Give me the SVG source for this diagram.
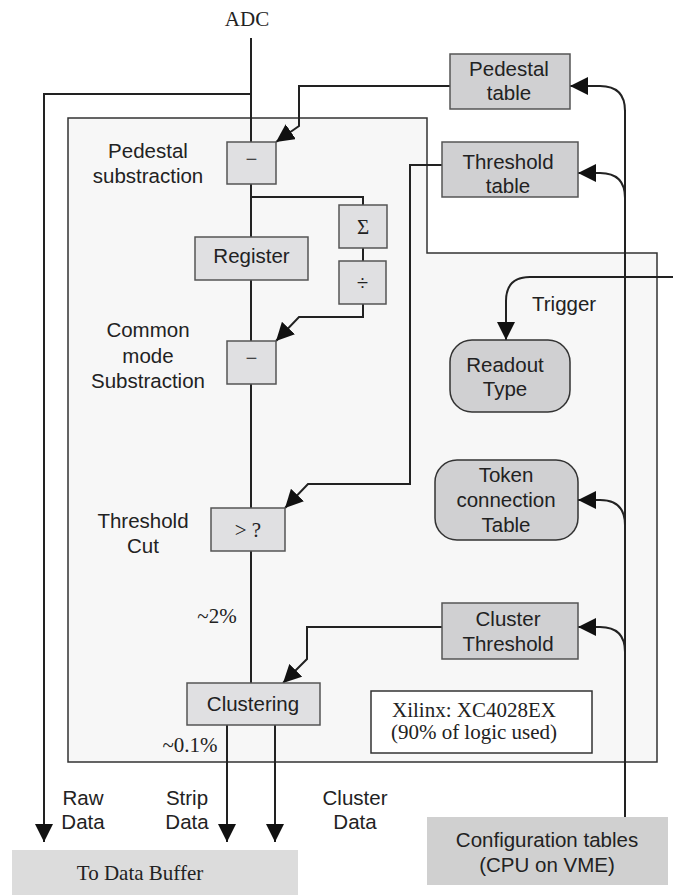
<svg xmlns="http://www.w3.org/2000/svg" width="678" height="895" viewBox="0 0 678 895">
<style>
.sans{font-family:"Liberation Sans",Arial,sans-serif;font-size:20.5px;fill:#222;text-anchor:middle}
.serif{font-family:"Liberation Serif","Times New Roman",serif;font-size:21px;fill:#222;text-anchor:middle}
.op{fill:#e0e0e2;stroke:#555;stroke-width:1.5}
.tbl{fill:#d0d0d2;stroke:#555;stroke-width:1.5}
.rnd{fill:#d0d0d2;stroke:#333;stroke-width:1.5}
.wire{fill:none;stroke:#222;stroke-width:2}
</style>
<defs>
<marker id="ah" markerUnits="userSpaceOnUse" markerWidth="18" markerHeight="18" viewBox="0 0 18 18" refX="18" refY="9" orient="auto">
<path d="M0,0 L18,9 L0,18 z" fill="#111"/>
</marker>
</defs>
<rect width="678" height="895" fill="#fff"/>
<g id="fpga-board">
<path d="M68,118 L427,118 L427,253 L657,253 L657,762 L68,762 Z" fill="#f7f7f7" stroke="#333" stroke-width="1.5"/>
</g>
<g id="connectors">
<path class="wire" d="M251,38 L251,683"/>
<path class="wire" d="M251,94 L44,94 L44,842" marker-end="url(#ah)"/>
<path class="wire" d="M450,86 L299,86 L299,126 L276,142" marker-end="url(#ah)"/>
<path class="wire" d="M251,197 L363,197 L363,205"/>
<path class="wire" d="M363,248 L363,261"/>
<path class="wire" d="M363,304 L363,317 L299,317 L276,341" marker-end="url(#ah)"/>
<path class="wire" d="M442,165 L410,165 L410,484 L308,484 L285,508" marker-end="url(#ah)"/>
<path class="wire" d="M442,627 L307,627 L307,659 L283,683" marker-end="url(#ah)"/>
<path class="wire" d="M227,725 L227,842" marker-end="url(#ah)"/>
<path class="wire" d="M275,725 L275,842" marker-end="url(#ah)"/>
<path class="wire" d="M625,817 L625,110"/>
<path class="wire" d="M625,111 Q625,86 600,86 L570,86" marker-end="url(#ah)"/>
<path class="wire" d="M625,198 Q625,173 600,173 L578,173" marker-end="url(#ah)"/>
<path class="wire" d="M625,525 Q625,500 600,500 L578,500" marker-end="url(#ah)"/>
<path class="wire" d="M625,652 Q625,627 600,627 L578,627" marker-end="url(#ah)"/>
<path class="wire" d="M673,277 L530,277 Q506,277 506,301 L506,340" marker-end="url(#ah)"/>
</g>
<g id="adc"><text class="serif" x="247" y="26">ADC</text></g>
<g id="pedestal-sub">
<rect class="op" x="227" y="142" width="49" height="42"/>
<text class="serif" x="251.5" y="166">−</text>
<text class="sans" x="148" y="158">Pedestal</text>
<text class="sans" x="148" y="183">substraction</text>
</g>
<g id="pedestal-table">
<rect class="tbl" x="450" y="54" width="120" height="55"/>
<text class="sans" x="509" y="76">Pedestal</text>
<text class="sans" x="509" y="100">table</text>
</g>
<g id="threshold-table">
<rect class="tbl" x="442" y="142" width="136" height="55"/>
<text class="sans" x="508" y="169">Threshold</text>
<text class="sans" x="508" y="193">table</text>
</g>
<g id="sum">
<rect class="op" x="339" y="205" width="48" height="43"/>
<text class="serif" x="363" y="234">Σ</text>
</g>
<g id="divide">
<rect class="op" x="339" y="261" width="47" height="43"/>
<text class="serif" x="362.5" y="290">÷</text>
</g>
<g id="register">
<rect class="op" x="195" y="237" width="113" height="43"/>
<text class="sans" x="251.5" y="263">Register</text>
</g>
<g id="common-mode">
<rect class="op" x="227" y="341" width="49" height="43"/>
<text class="serif" x="251.5" y="365">−</text>
<text class="sans" x="148" y="337">Common</text>
<text class="sans" x="148" y="363">mode</text>
<text class="sans" x="148" y="388">Substraction</text>
</g>
<g id="readout-type">
<rect class="rnd" x="450" y="340" width="120" height="72" rx="22"/>
<text class="sans" x="505" y="372">Readout</text>
<text class="sans" x="505" y="396">Type</text>
</g>
<g id="trigger"><text class="sans" x="532" y="311" style="text-anchor:start">Trigger</text></g>
<g id="token-table">
<rect class="rnd" x="435" y="460" width="143" height="80" rx="22"/>
<text class="sans" x="506" y="482">Token</text>
<text class="sans" x="506" y="507">connection</text>
<text class="sans" x="506" y="532">Table</text>
</g>
<g id="threshold-cut">
<rect class="op" x="211" y="508" width="74" height="43"/>
<text class="serif" x="248" y="537">&gt; ?</text>
<text class="sans" x="143" y="528">Threshold</text>
<text class="sans" x="143" y="553">Cut</text>
</g>
<g id="pct2"><text class="serif" x="217" y="623">~2%</text></g>
<g id="cluster-threshold">
<rect class="tbl" x="442" y="603" width="136" height="56"/>
<text class="sans" x="508" y="626">Cluster</text>
<text class="sans" x="508" y="651">Threshold</text>
</g>
<g id="clustering">
<rect class="op" x="187" y="683" width="133" height="42"/>
<text class="sans" x="253" y="711">Clustering</text>
</g>
<g id="pct01"><text class="serif" x="190" y="752">~0.1%</text></g>
<g id="xilinx">
<rect x="371" y="691" width="221" height="62" fill="#fff" stroke="#333" stroke-width="1.5"/>
<text class="serif" x="474" y="717">Xilinx: XC4028EX</text>
<text class="serif" x="474" y="739">(90% of logic used)</text>
</g>
<g id="labels-out">
<text class="sans" x="83" y="805">Raw</text>
<text class="sans" x="83" y="829">Data</text>
<text class="sans" x="187" y="805">Strip</text>
<text class="sans" x="187" y="829">Data</text>
<text class="sans" x="355" y="805">Cluster</text>
<text class="sans" x="355" y="829">Data</text>
</g>
<g id="data-buffer">
<rect x="12" y="850" width="286" height="45" fill="#dcdcdc"/>
<text class="serif" x="140" y="880">To Data Buffer</text>
</g>
<g id="config-tables">
<rect x="427" y="817" width="241" height="68" fill="#d0d0d0"/>
<text class="sans" x="547" y="847">Configuration tables</text>
<text class="sans" x="547" y="872">(CPU on VME)</text>
</g>
</svg>
